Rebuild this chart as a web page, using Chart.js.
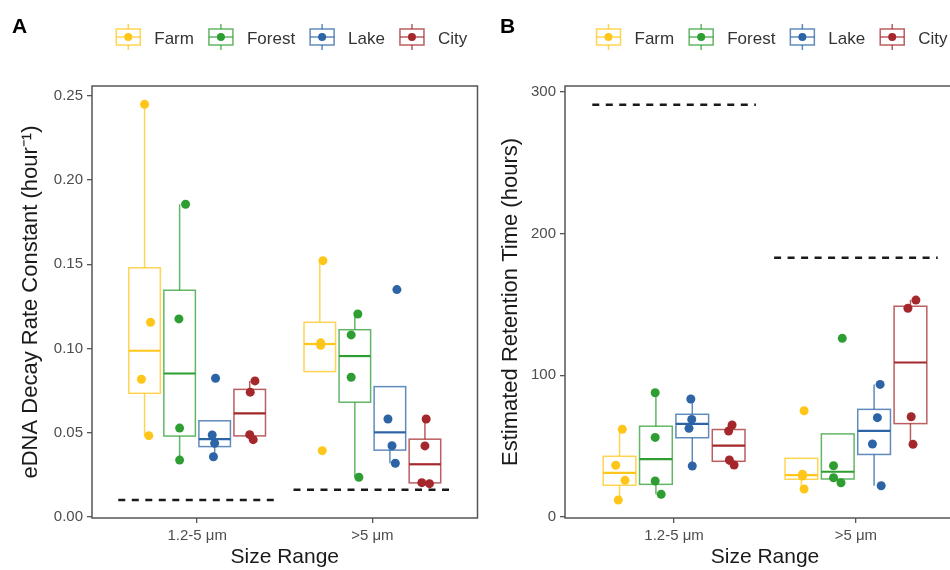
<!DOCTYPE html>
<html>
<head>
<meta charset="utf-8">
<script src="https://cdn.jsdelivr.net/npm/chart.js@4.4.1/dist/chart.umd.min.js"></script>
<style>
body{margin:0;background:#fff;overflow:hidden;width:950px;height:570px;position:relative}
#wrapA{position:absolute;left:0;top:0;width:482px;height:570px}
#wrapB{position:absolute;left:480px;top:0;width:500px;height:570px}
</style>
</head>
<body>
<div id="wrapA"><canvas id="chartA" width="482" height="570"></canvas></div>
<div id="wrapB"><canvas id="chartB" width="500" height="570"></canvas></div>
<script>
const sizeLabels=['1.2-5 μm','>5 μm'];
const sites=['Farm','Forest','Lake','City'];
const colors=['#FFC61A','#2E9E33','#2C64A6','#A4282B'];

// panel A: eDNA decay rate constant (hour^-1), [1.2-5 μm], [>5 μm]
const decayFarm  =[[0.2450,0.1156,0.0818,0.0483],[0.1522,0.1034,0.1020,0.0394]];
const decayForest=[[0.1857,0.1176,0.0528,0.0338],[0.1205,0.1081,0.0830,0.0236]];
const decayLake  =[[0.0824,0.0487,0.0438,0.0358],[0.1350,0.0582,0.0423,0.0319]];
const decayCity  =[[0.0808,0.0741,0.0489,0.0459],[0.0582,0.0422,0.0204,0.0198]];
const decayLimit =[0.0101,0.0162];

// panel B: estimated retention time (hours)
const retFarm  =[[61.9,36.5,25.9,12.0],[75.0,30.2,28.9,19.8]];
const retForest=[[87.7,56.2,25.4,16.0],[126.1,36.2,27.7,24.2]];
const retLake  =[[83.3,68.9,62.6,36.0],[93.6,70.1,51.5,22.1]];
const retCity  =[[64.9,60.7,40.2,36.7],[153.1,147.3,70.8,51.3]];
const retLimit =[291,183];

// horizontal jitter of the points, category units, same order as values
const jitterA=[
  [[0,0.034,-0.018,0.024],[0.018,0.005,0.005,0.014]],
  [[0.034,-0.004,0,0],[0.017,-0.021,-0.021,0.023]],
  [[0.005,-0.014,0,-0.007],[0.04,-0.011,0.012,0.031]],
  [[0.03,0.003,0,0.02],[0.007,0,-0.018,0.026]]
];
const jitterB=[
  [[0.015,-0.021,0.03,-0.007],[0.015,0.006,0.006,0.015]],
  [[-0.004,-0.004,-0.004,0.029],[0.025,-0.023,-0.023,0.018]],
  [[-0.008,-0.003,-0.018,0],[0.033,0.018,-0.009,0.039]],
  [[0.019,0,0.004,0.03],[0.03,-0.014,0.004,0.014]]
];

const yTicksA=[0,0.05,0.10,0.15,0.20,0.25];
const yTicksB=[0,100,200,300];

Chart.defaults.font.family='"Liberation Sans", Arial, sans-serif';

function fade(hex,a){
  const n=parseInt(hex.slice(1),16);
  return `rgba(${n>>16},${(n>>8)&255},${n&255},${a})`;
}
function quantile(s,p){
  const h=(s.length-1)*p,lo=Math.floor(h),hi=Math.min(lo+1,s.length-1);
  return s[lo]+(h-lo)*(s[hi]-s[lo]);
}
function boxStats(vals){
  const s=[...vals].sort((a,b)=>a-b);
  const q1=quantile(s,.25),med=quantile(s,.5),q3=quantile(s,.75),iqr=q3-q1;
  const inside=s.filter(v=>v>=q1-1.5*iqr&&v<=q3+1.5*iqr);
  return {q1,med,q3,lo:Math.min(q1,...inside),hi:Math.max(q3,...inside)};
}
function slot(g,s){return g+1+(s-1.5)*0.2;}

function drawGlyph(ctx,x,cy,col){
  const w=24,h=16,xm=x+w/2;
  ctx.strokeStyle=fade(col,0.75);ctx.lineWidth=1.5;
  ctx.strokeRect(x,cy-h/2,w,h);
  ctx.beginPath();
  ctx.moveTo(xm,cy-h/2-5);ctx.lineTo(xm,cy-h/2);
  ctx.moveTo(xm,cy+h/2);ctx.lineTo(xm,cy+h/2+5);
  ctx.moveTo(x,cy);ctx.lineTo(x+w,cy);
  ctx.stroke();
  ctx.fillStyle=col;
  ctx.beginPath();ctx.arc(xm,cy,4,0,Math.PI*2);ctx.fill();
}

const boxPlugin={
  id:'boxes',
  beforeDatasetsDraw(chart,args,opts){
    const {ctx,scales:{x,y}}=chart;
    ctx.save();
    opts.values.forEach((site,s)=>{
      site.forEach((vals,g)=>{
        const st=boxStats(vals),c=slot(g,s);
        const x0=x.getPixelForValue(c-0.09),x1=x.getPixelForValue(c+0.09),xm=x.getPixelForValue(c);
        const yq1=y.getPixelForValue(st.q1),yq3=y.getPixelForValue(st.q3);
        ctx.strokeStyle=fade(colors[s],0.75);ctx.lineWidth=1.5;
        ctx.beginPath();
        ctx.moveTo(xm,y.getPixelForValue(st.hi));ctx.lineTo(xm,yq3);
        ctx.moveTo(xm,yq1);ctx.lineTo(xm,y.getPixelForValue(st.lo));
        ctx.stroke();
        ctx.strokeRect(x0,yq3,x1-x0,yq1-yq3);
        const ym=y.getPixelForValue(st.med);
        ctx.strokeStyle=colors[s];ctx.lineWidth=2.2;
        ctx.beginPath();ctx.moveTo(x0,ym);ctx.lineTo(x1,ym);ctx.stroke();
      });
    });
    ctx.restore();
  },
  afterDraw(chart,args,opts){
    const {ctx,chartArea:a}=chart;
    ctx.save();
    ctx.strokeStyle='#555';ctx.lineWidth=1.5;
    ctx.strokeRect(a.left,a.top,a.right-a.left,a.bottom-a.top);
    // legend
    ctx.font='17px "Liberation Sans", Arial, sans-serif';
    const widths=sites.map(t=>ctx.measureText(t).width);
    const total=widths.reduce((p,q)=>p+q,0)+sites.length*(24+14)+(sites.length-1)*15;
    let lx=(a.left+a.right)/2+7-total/2;
    sites.forEach((t,i)=>{
      drawGlyph(ctx,lx,37,colors[i]);
      lx+=24+14;
      ctx.fillStyle='#333';ctx.textBaseline='middle';ctx.textAlign='left';
      ctx.fillText(t,lx,39);
      lx+=widths[i]+15;
    });
    // panel letter
    ctx.font='bold 21px "Liberation Sans", Arial, sans-serif';
    ctx.fillStyle='#000';ctx.textBaseline='alphabetic';
    ctx.fillText(opts.letter,opts.letterX,33);
    ctx.restore();
  }
};

function makeChart(id,cfg){
  const datasets=[];
  cfg.limits.forEach((v,g)=>{
    datasets.push({
      data:[{x:g+1-0.45,y:v},{x:g+1+0.45,y:v}],
      showLine:true,borderColor:'#1a1a1a',borderWidth:2.6,borderDash:[7,6.5],
      pointRadius:0,fill:false
    });
  });
  cfg.values.forEach((site,s)=>{
    const pts=[];
    site.forEach((vals,g)=>vals.forEach((v,k)=>pts.push({x:slot(g,s)+cfg.jitter[s][g][k],y:v})));
    datasets.push({label:sites[s],data:pts,pointRadius:4.5,pointHoverRadius:4.5,
      backgroundColor:colors[s],borderWidth:0});
  });
  return new Chart(document.getElementById(id),{
    type:'scatter',
    data:{datasets},
    plugins:[boxPlugin],
    options:{
      responsive:false,animation:false,devicePixelRatio:1,
      layout:{padding:{left:0,top:86,right:cfg.rightPad,bottom:0}},
      plugins:{
        legend:{display:false},tooltip:{enabled:false},
        boxes:{values:cfg.values,letter:cfg.letter,letterX:cfg.letterX}
      },
      scales:{
        x:{
          type:'linear',min:0.4,max:2.6,
          afterBuildTicks:sc=>{sc.ticks=[1,2].map(v=>({value:v}));},
          afterFit:sc=>{sc.height=52;},
          ticks:{callback:v=>sizeLabels[v-1],color:'#4d4d4d',font:{size:15},padding:4,maxRotation:0,autoSkip:false},
          grid:{drawOnChartArea:false,drawTicks:true,tickLength:5,color:'#555',lineWidth:1.3},
          border:{display:false},
          title:{display:true,text:'Size Range',color:'#1a1a1a',font:{size:21},padding:{top:0,bottom:0}}
        },
        y:{
          min:cfg.yMin,max:cfg.yMax,
          afterBuildTicks:sc=>{sc.ticks=cfg.yTicks.map(v=>({value:v}));},
          afterFit:sc=>{sc.width=cfg.yAxisWidth;},
          ticks:{callback:cfg.fmt,color:'#4d4d4d',font:{size:15},padding:4},
          grid:{drawOnChartArea:false,drawTicks:true,tickLength:5,color:'#555',lineWidth:1.3},
          border:{display:false},
          title:{display:true,text:cfg.yTitle,color:'#1a1a1a',font:{size:22},padding:{top:18,bottom:0}}
        }
      }
    }
  });
}

makeChart('chartA',{
  values:[decayFarm,decayForest,decayLake,decayCity],jitter:jitterA,limits:decayLimit,
  yTicks:yTicksA,yMin:-0.0006,yMax:0.2559,fmt:v=>v.toFixed(2),
  yTitle:'eDNA Decay Rate Constant (hour⁻¹)',yAxisWidth:92,rightPad:3,letter:'A',letterX:12
});
makeChart('chartB',{
  values:[retFarm,retForest,retLake,retCity],jitter:jitterB,limits:retLimit,
  yTicks:yTicksB,yMin:-0.7,yMax:304.2,fmt:v=>String(v),
  yTitle:'Estimated Retention Time (hours)',yAxisWidth:85,rightPad:15,letter:'B',letterX:20
});
</script>
</body>
</html>
